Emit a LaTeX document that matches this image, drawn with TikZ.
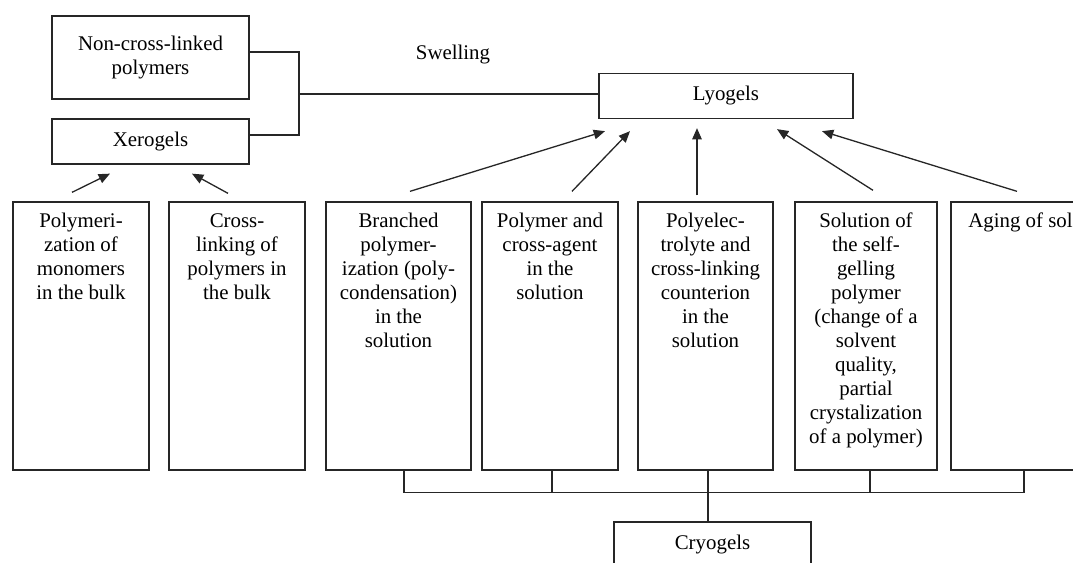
\documentclass[tikz,border=0pt]{standalone}
\usepackage{fontspec}
\setmainfont{Liberation Serif}
\usetikzlibrary{arrows.meta,calc}

\begin{document}
\begin{tikzpicture}[x=0.575pt,y=-0.575pt,>={Triangle[length=6.5pt,width=5.5pt]},
  line width=0.75pt,draw=black!85,
  font=\fontsize{12pt}{13.8pt}\selectfont,
  box/.style={draw,rectangle,inner sep=0pt,minimum width=#1*0.575pt,minimum height=45*0.575pt},
  col/.style={draw,rectangle,inner sep=0pt,minimum width=#1*0.575pt,minimum height=268*0.575pt},
  txt/.style={anchor=north,align=center,inner xsep=2pt,inner ysep=6.5pt}]
\useasboundingbox (0,0) rectangle (1073,563);

% Upper boxes
\node[box=197,minimum height=83*0.575pt,align=center] (noncross) at (150.5,57.5) {Non-cross-linked\\polymers};
\node[box=197] (xerogels) at (150.5,141.5) {Xerogels};
\node[box=254] (lyogels) at (726,96) {Lyogels};
\node (swell) at (453,55) {Swelling};

% Methods
\node[col=136,label={[txt]north:{Polymeri-\\zation of\\monomers\\in the bulk}}] (b1) at (81,336) {};
\node[col=136,label={[txt]north:{Cross-\\linking of\\polymers in\\the bulk}}] (b2) at (237,336) {};
\node[col=145,label={[txt]north:{Branched\\polymer-\\ization (poly-\\condensation)\\in the\\solution}}] (b3) at (398.5,336) {};
\node[col=136,label={[txt]north:{Polymer and\\cross-agent\\in the\\solution}}] (b4) at (550,336) {};
\node[col=135,label={[txt]north:{Polyelec-\\trolyte and\\cross-linking\\counterion\\in the\\solution}}] (b5) at (705.5,336) {};
\node[col=142,label={[txt]north:{Solution of\\the self-\\gelling\\polymer\\(change of a\\solvent\\quality,\\partial\\crystalization\\of a polymer)}}] (b6) at (866,336) {};
\node[col=139,label={[txt]north:{Aging of sol}}] (b7) at (1020.5,336) {};
\node[box=197] (cryogels) at (712.5,544.5) {Cryogels};

% Swelling bracket
\coordinate (brk) at (299,94);
\draw ($(noncross.east)+(0,-5.5)$) -- ($(noncross.east -| brk)+(0,-5.5)$)
  -- ($(xerogels.east -| brk)+(0,-6.5)$) -- ($(xerogels.east)+(0,-6.5)$);
\draw (brk) -- (brk -| lyogels.west);

% Arrows
\draw[->] ($(b1.north)+(-9,-9)$) -- ($(xerogels.south)+(-40.5,9)$);
\draw[->] ($(b2.north)+(-9,-8)$) -- ($(xerogels.south)+(41.5,9)$);
\draw[->] ($(b3.north)+(11.5,-10)$) -- ($(lyogels.south)+(-121,12)$);
\draw[->] ($(b4.north)+(22,-10)$) -- ($(lyogels.south)+(-96,12)$);
\draw[->] ($(b5.north)+(-8.5,-6)$) -- ($(lyogels.south)+(-29,9)$);
\draw[->] ($(b6.north)+(7,-11)$) -- ($(lyogels.south)+(51,10)$);
\draw[->] ($(b7.north)+(-3.5,-10)$) -- ($(lyogels.south)+(96,12)$);

% Cryogels bus
\coordinate (bus) at (708,492);
\foreach \b/\d in {b3/5.5,b4/2,b5/2.5,b6/4,b7/3.5}
  \draw ($(\b.south)+(\d,0)$) -- ++(0,22);
\draw ($(b3.south)+(5.5,22)$) -- ($(b7.south)+(3.5,22)$);
\draw (bus) -- (bus |- cryogels.north);
\end{tikzpicture}
\end{document}
